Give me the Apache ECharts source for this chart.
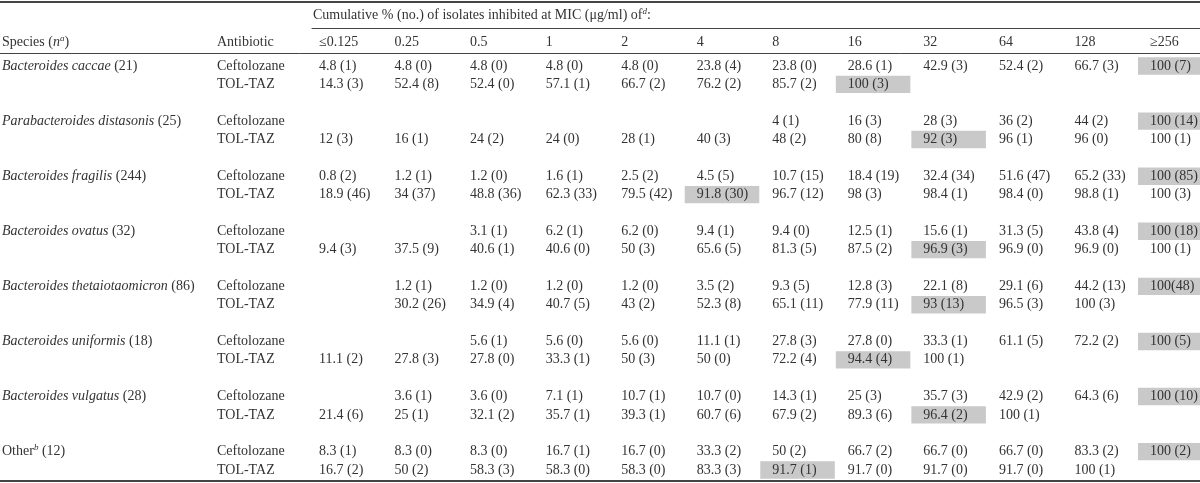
<!DOCTYPE html>
<html>
<head>
<meta charset="utf-8">
<script src="https://cdn.jsdelivr.net/npm/echarts@6/dist/echarts.min.js"></script>
<style>html,body{margin:0;padding:0;background:#fff}#c{width:1200px;height:483px}</style>
</head>
<body>
<div id="c"></div>
<script>
// ---------- data ----------
const micLabels = ['≤0.125', '0.25', '0.5', '1', '2', '4', '8', '16', '32', '64', '128', '≥256'];
const headerLeft = ['Species', 'Antibiotic'];
const antibiotics = ['Ceftolozane', 'TOL-TAZ'];
const speciesNames = ['Bacteroides caccae', 'Parabacteroides distasonis', 'Bacteroides fragilis', 'Bacteroides ovatus',
  'Bacteroides thetaiotaomicron', 'Bacteroides uniformis', 'Bacteroides vulgatus', 'Other'];
const speciesN = [21, 25, 244, 32, 86, 18, 28, 12];
const speciesItalic = [true, true, true, true, true, true, true, false];
const speciesNote = ['', '', '', '', '', '', '', 'b'];

const caccaeCef = ['4.8 (1)', '4.8 (0)', '4.8 (0)', '4.8 (0)', '4.8 (0)', '23.8 (4)', '23.8 (0)', '28.6 (1)', '42.9 (3)', '52.4 (2)', '66.7 (3)', '100 (7)'];
const caccaeTol = ['14.3 (3)', '52.4 (8)', '52.4 (0)', '57.1 (1)', '66.7 (2)', '76.2 (2)', '85.7 (2)', '100 (3)', '', '', '', ''];
const distasonisCef = ['', '', '', '', '', '', '4 (1)', '16 (3)', '28 (3)', '36 (2)', '44 (2)', '100 (14)'];
const distasonisTol = ['12 (3)', '16 (1)', '24 (2)', '24 (0)', '28 (1)', '40 (3)', '48 (2)', '80 (8)', '92 (3)', '96 (1)', '96 (0)', '100 (1)'];
const fragilisCef = ['0.8 (2)', '1.2 (1)', '1.2 (0)', '1.6 (1)', '2.5 (2)', '4.5 (5)', '10.7 (15)', '18.4 (19)', '32.4 (34)', '51.6 (47)', '65.2 (33)', '100 (85)'];
const fragilisTol = ['18.9 (46)', '34 (37)', '48.8 (36)', '62.3 (33)', '79.5 (42)', '91.8 (30)', '96.7 (12)', '98 (3)', '98.4 (1)', '98.4 (0)', '98.8 (1)', '100 (3)'];
const ovatusCef = ['', '', '3.1 (1)', '6.2 (1)', '6.2 (0)', '9.4 (1)', '9.4 (0)', '12.5 (1)', '15.6 (1)', '31.3 (5)', '43.8 (4)', '100 (18)'];
const ovatusTol = ['9.4 (3)', '37.5 (9)', '40.6 (1)', '40.6 (0)', '50 (3)', '65.6 (5)', '81.3 (5)', '87.5 (2)', '96.9 (3)', '96.9 (0)', '96.9 (0)', '100 (1)'];
const thetaCef = ['', '1.2 (1)', '1.2 (0)', '1.2 (0)', '1.2 (0)', '3.5 (2)', '9.3 (5)', '12.8 (3)', '22.1 (8)', '29.1 (6)', '44.2 (13)', '100(48)'];
const thetaTol = ['', '30.2 (26)', '34.9 (4)', '40.7 (5)', '43 (2)', '52.3 (8)', '65.1 (11)', '77.9 (11)', '93 (13)', '96.5 (3)', '100 (3)', ''];
const uniformisCef = ['', '', '5.6 (1)', '5.6 (0)', '5.6 (0)', '11.1 (1)', '27.8 (3)', '27.8 (0)', '33.3 (1)', '61.1 (5)', '72.2 (2)', '100 (5)'];
const uniformisTol = ['11.1 (2)', '27.8 (3)', '27.8 (0)', '33.3 (1)', '50 (3)', '50 (0)', '72.2 (4)', '94.4 (4)', '100 (1)', '', '', ''];
const vulgatusCef = ['', '3.6 (1)', '3.6 (0)', '7.1 (1)', '10.7 (1)', '10.7 (0)', '14.3 (1)', '25 (3)', '35.7 (3)', '42.9 (2)', '64.3 (6)', '100 (10)'];
const vulgatusTol = ['21.4 (6)', '25 (1)', '32.1 (2)', '35.7 (1)', '39.3 (1)', '60.7 (6)', '67.9 (2)', '89.3 (6)', '96.4 (2)', '100 (1)', '', ''];
const otherCef = ['8.3 (1)', '8.3 (0)', '8.3 (0)', '16.7 (1)', '16.7 (0)', '33.3 (2)', '50 (2)', '66.7 (2)', '66.7 (0)', '66.7 (0)', '83.3 (2)', '100 (2)'];
const otherTol = ['16.7 (2)', '50 (2)', '58.3 (3)', '58.3 (0)', '58.3 (0)', '83.3 (3)', '91.7 (1)', '91.7 (0)', '91.7 (0)', '91.7 (0)', '100 (1)', ''];

// highlighted (shaded) MIC column index per species
const cefHighlight = [11, 11, 11, 11, 11, 11, 11, 11];
const tolHighlight = [7, 8, 5, 8, 8, 7, 8, 6];

const cefRows = [caccaeCef, distasonisCef, fragilisCef, ovatusCef, thetaCef, uniformisCef, vulgatusCef, otherCef];
const tolRows = [caccaeTol, distasonisTol, fragilisTol, ovatusTol, thetaTol, uniformisTol, vulgatusTol, otherTol];

// ---------- style ----------
const FONT = 'Liberation Serif';
const TEXT = '#333333';
const RULE = '#444444';
const GREY = '#c9c9c9';
const FS = 14;
const PAD = 12;
const ROWS_PER_SPECIES = 3;

// ---------- build cells ----------
const micCells = [];
speciesNames.forEach((s, si) => {
  [cefRows[si], tolRows[si]].forEach((vals, ai) => {
    const hl = ai === 0 ? cefHighlight[si] : tolHighlight[si];
    vals.forEach((t, ci) => {
      if (t) micCells.push({col: ci, row: si * ROWS_PER_SPECIES + ai, text: t, hl: ci === hl});
    });
  });
});

const leftCells = [];
speciesNames.forEach((s, si) => {
  const name = speciesItalic[si] ? '{i|' + s + '}' : s;
  const note = speciesNote[si] ? '{sup|' + speciesNote[si] + '}' : '';
  leftCells.push({col: 0, row: si * ROWS_PER_SPECIES, text: name + note + ' (' + speciesN[si] + ')'});
  antibiotics.forEach((a, ai) => leftCells.push({col: 1, row: si * ROWS_PER_SPECIES + ai, text: a}));
});

const richZr = {
  i: {fontStyle: 'italic', fontFamily: FONT, fontSize: FS, fill: TEXT, lineHeight: 16},
  sup: {fontStyle: 'italic', fontFamily: FONT, fontSize: 9, fill: TEXT, lineHeight: 8, verticalAlign: 'top'}
};
const richEc = {
  i: {fontStyle: 'italic', fontFamily: FONT, fontSize: FS, color: TEXT, lineHeight: 16},
  sup: {fontStyle: 'italic', fontFamily: FONT, fontSize: 9, color: TEXT, lineHeight: 8, verticalAlign: 'top'},
  t: {fontFamily: FONT, fontSize: FS, color: TEXT, lineHeight: 16}
};

function textEl(p, text) {
  return {
    type: 'text', x: p[0], y: p[1],
    style: {text: text, fill: TEXT, fontFamily: FONT, fontSize: FS, lineHeight: 16,
      align: 'left', verticalAlign: 'middle', rich: richZr}
  };
}

function renderMic(params, api) {
  const cell = micCells[params.dataIndex];
  const p = api.coord([api.value(0), api.value(1)]);
  const sz = api.size([1, 1]);
  const children = [];
  if (cell.hl) {
    const h = sz[1] - 1;
    children.push({type: 'rect', shape: {x: p[0] - PAD, y: p[1] - h / 2, width: sz[0] - 1, height: h},
      style: {fill: GREY}});
  }
  children.push(textEl(p, cell.text));
  return {type: 'group', children: children};
}

function renderLeft(params, api) {
  const cell = leftCells[params.dataIndex];
  const p = api.coord([api.value(0), api.value(1)]);
  return textEl(p, cell.text);
}

const yBody = (gi) => ({gridIndex: gi, type: 'value', inverse: true, min: -0.71, max: 22.6, show: false});
const yRule = (gi) => ({gridIndex: gi, type: 'value', min: 0, max: 1, show: false});
const xRule = (gi, pos, w) => ({
  gridIndex: gi, type: 'value', min: 0, max: 1, position: pos,
  axisLine: {show: true, onZero: false, lineStyle: {color: RULE, width: w}},
  axisTick: {show: false}, axisLabel: {show: false}, splitLine: {show: false}
});
const headLabel = {
  interval: 0, align: 'left', verticalAlign: 'middle', margin: 10.5,
  color: TEXT, fontFamily: FONT, fontSize: FS, lineHeight: 16, rich: richEc
};

const option = {
  animation: false,
  backgroundColor: '#ffffff',
  title: {
    text: '{t|Cumulative % (no.) of isolates inhibited at MIC (μg/ml) of}{sup|d}{t|:}',
    left: 313, top: 7, padding: 0,
    textStyle: {fontFamily: FONT, fontSize: FS, color: TEXT, fontWeight: 'normal', lineHeight: 16, rich: richEc}
  },
  grid: [
    {left: 319, right: 50, top: 53, bottom: 2, outerBoundsMode: 'none'},
    {left: 2, width: 215, top: 53, bottom: 2, outerBoundsMode: 'none'},
    {left: 0, right: 0, top: 53, bottom: 2, outerBoundsMode: 'none'},
    {left: 0, right: 0, top: 1.5, height: 10, outerBoundsMode: 'none'},
    {left: 312, right: 0, top: 28, height: 10, outerBoundsMode: 'none'}
  ],
  xAxis: [
    {gridIndex: 0, type: 'category', data: micLabels, boundaryGap: false, position: 'top',
      axisLine: {show: false, onZero: false}, axisTick: {show: false}, splitLine: {show: false},
      axisLabel: headLabel},
    {gridIndex: 1, type: 'category', data: headerLeft, boundaryGap: false, position: 'top',
      axisLine: {show: false, onZero: false}, axisTick: {show: false}, splitLine: {show: false},
      axisLabel: Object.assign({}, headLabel, {
        formatter: (v) => v === 'Species' ? 'Species ({i|n}{sup|a})' : v
      })},
    xRule(2, 'top', 1),
    xRule(2, 'bottom', 2),
    xRule(3, 'top', 2),
    xRule(4, 'top', 1)
  ],
  yAxis: [yBody(0), yBody(1), yRule(2), yRule(3), yRule(4)],
  series: [
    {type: 'custom', xAxisIndex: 0, yAxisIndex: 0, clip: false, silent: true,
      renderItem: renderMic, data: micCells.map(c => [c.col, c.row])},
    {type: 'custom', xAxisIndex: 1, yAxisIndex: 1, clip: false, silent: true,
      renderItem: renderLeft, data: leftCells.map(c => [c.col, c.row])}
  ]
};

const chart = echarts.init(document.getElementById('c'));
chart.setOption(option);
</script>
</body>
</html>
